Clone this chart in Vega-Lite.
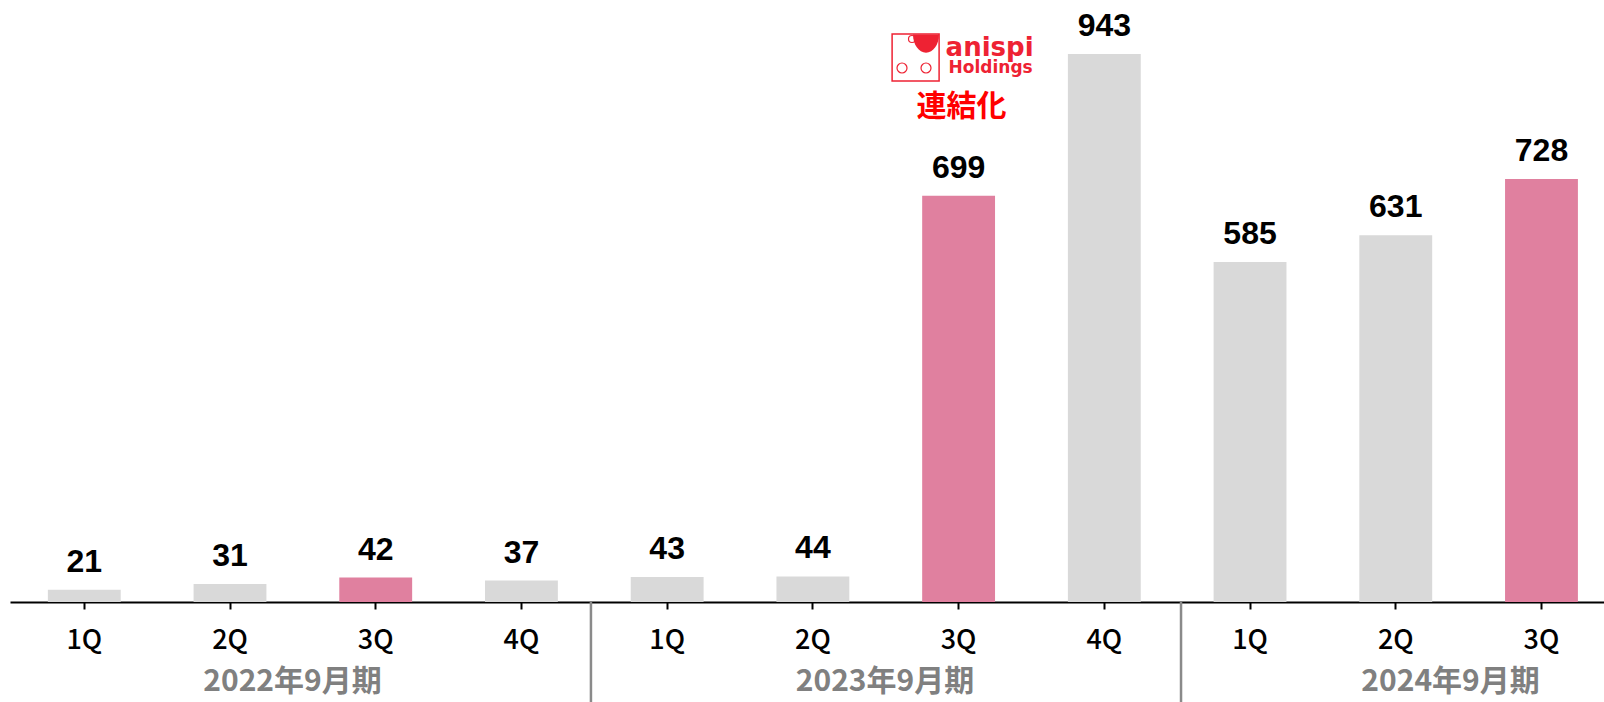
{
  "$schema": "https://vega.github.io/schema/vega-lite/v6.json",
  "width": 1594,
  "height": 602,
  "padding": {"left": 10, "right": 0, "top": 0, "bottom": 100},
  "autosize": {"type": "none"},
  "background": "white",
  "config": {"view": {"stroke": null}},
  "datasets": {
    "bars": [
      {"key": "2022-1Q", "value": 21, "hl": "N"},
      {"key": "2022-2Q", "value": 31, "hl": "N"},
      {"key": "2022-3Q", "value": 42, "hl": "Y"},
      {"key": "2022-4Q", "value": 37, "hl": "N"},
      {"key": "2023-1Q", "value": 43, "hl": "N"},
      {"key": "2023-2Q", "value": 44, "hl": "N"},
      {"key": "2023-3Q", "value": 699, "hl": "Y"},
      {"key": "2023-4Q", "value": 943, "hl": "N"},
      {"key": "2024-1Q", "value": 585, "hl": "N"},
      {"key": "2024-2Q", "value": 631, "hl": "N"},
      {"key": "2024-3Q", "value": 728, "hl": "Y"}
    ],
    "logo": [{"key": "2023-3Q"}]
  },
  "layer": [
    {
      "data": {"name": "bars"},
      "mark": {"type": "bar"},
      "encoding": {
        "x": {
          "field": "key", "type": "nominal", "sort": null,
          "scale": {
            "domain": ["2022-1Q","2022-2Q","2022-3Q","2022-4Q","2023-1Q","2023-2Q","2023-3Q","2023-4Q","2024-1Q","2024-2Q","2024-3Q"],
            "paddingInner": 0.5, "paddingOuter": 0.2194, "align": 0.592, "round": false
          },
          "axis": {
            "title": null,
            "labelExpr": "split(datum.value, '-')[1]",
            "labelAngle": 0,
            "labelFont": "Noto Sans CJK JP",
            "labelFontSize": 27,
            "labelFontWeight": 500,
            "labelColor": "#000000",
            "labelPadding": 18,
            "tickColor": "#000000",
            "tickSize": 7,
            "tickWidth": 2,
            "domainColor": "#000000",
            "domainWidth": 2,
            "grid": false
          }
        },
        "y": {"field": "value", "type": "quantitative", "scale": {"domain": [0, 1036], "nice": false}, "axis": null},
        "color": {"field": "hl", "type": "nominal", "scale": {"domain": ["N", "Y"], "range": ["#D9D9D9", "#E0809F"]}, "legend": null}
      }
    },
    {
      "data": {"name": "bars"},
      "mark": {"type": "text", "dy": -18, "baseline": "alphabetic", "align": "center", "font": "Liberation Sans", "fontSize": 32, "fontWeight": "bold", "color": "#000000"},
      "encoding": {
        "x": {"field": "key", "type": "nominal", "sort": null},
        "y": {"field": "value", "type": "quantitative"},
        "text": {"field": "value", "type": "quantitative"}
      }
    },
    {
      "data": {"values": [{"key": "2022-4Q"}]},
      "mark": {"type": "rule", "color": "#8A8A8A", "strokeWidth": 2.5, "xOffset": 69.5},
      "encoding": {
        "x": {"field": "key", "type": "nominal", "sort": null},
        "y": {"datum": 0},
        "y2": {"datum": -172.1}
      }
    },
    {
      "data": {"values": [{"key": "2023-4Q"}]},
      "mark": {"type": "rule", "color": "#8A8A8A", "strokeWidth": 2.5, "xOffset": 76.7},
      "encoding": {
        "x": {"field": "key", "type": "nominal", "sort": null},
        "y": {"datum": 0},
        "y2": {"datum": -172.1}
      }
    },
    {
      "data": {"values": [{"key": "2022-2Q", "label": "2022年9月期"}]},
      "mark": {"type": "text", "dx": 62.5, "baseline": "alphabetic", "align": "center", "font": "Noto Sans CJK JP", "fontSize": 30, "fontWeight": "bold", "color": "#808080"},
      "encoding": {
        "x": {"field": "key", "type": "nominal", "sort": null},
        "y": {"datum": -153.2},
        "text": {"field": "label"}
      }
    },
    {
      "data": {"values": [{"key": "2023-2Q", "label": "2023年9月期"}]},
      "mark": {"type": "text", "dx": 72.1, "baseline": "alphabetic", "align": "center", "font": "Noto Sans CJK JP", "fontSize": 30, "fontWeight": "bold", "color": "#808080"},
      "encoding": {
        "x": {"field": "key", "type": "nominal", "sort": null},
        "y": {"datum": -153.2},
        "text": {"field": "label"}
      }
    },
    {
      "data": {"values": [{"key": "2024-2Q", "label": "2024年9月期"}]},
      "mark": {"type": "text", "dx": 54.8, "baseline": "alphabetic", "align": "center", "font": "Noto Sans CJK JP", "fontSize": 30, "fontWeight": "bold", "color": "#808080"},
      "encoding": {
        "x": {"field": "key", "type": "nominal", "sort": null},
        "y": {"datum": -153.2},
        "text": {"field": "label"}
      }
    },
    {
      "data": {"name": "logo"},
      "mark": {"type": "point", "shape": "square", "size": 2209, "filled": false, "stroke": "#EE2233", "strokeWidth": 1.5, "opacity": 1, "xOffset": -43},
      "encoding": {
        "x": {"field": "key", "type": "nominal", "sort": null},
        "y": {"datum": 937.0}
      }
    },
    {
      "data": {"name": "logo"},
      "mark": {"type": "point", "shape": "M -1 0 A 1 1.4 0 0 0 1 0 Z", "size": 676, "filled": true, "fill": "#EE2233", "strokeWidth": 0, "opacity": 1, "xOffset": -32.6},
      "encoding": {
        "x": {"field": "key", "type": "nominal", "sort": null},
        "y": {"datum": 976.6}
      }
    },
    {
      "data": {"name": "logo"},
      "mark": {"type": "point", "shape": "circle", "size": 100, "filled": false, "stroke": "#EE2233", "strokeWidth": 1.2, "opacity": 1, "xOffset": -56.6},
      "encoding": {
        "x": {"field": "key", "type": "nominal", "sort": null},
        "y": {"datum": 919.0}
      }
    },
    {
      "data": {"name": "logo"},
      "mark": {"type": "point", "shape": "circle", "size": 100, "filled": false, "stroke": "#EE2233", "strokeWidth": 1.2, "opacity": 1, "xOffset": -32.6},
      "encoding": {
        "x": {"field": "key", "type": "nominal", "sort": null},
        "y": {"datum": 919.0}
      }
    },
    {
      "data": {"name": "logo"},
      "mark": {"type": "point", "shape": "circle", "size": 49, "filled": false, "stroke": "#EE2233", "strokeWidth": 1.2, "opacity": 1, "xOffset": -46.6},
      "encoding": {
        "x": {"field": "key", "type": "nominal", "sort": null},
        "y": {"datum": 968.9}
      }
    },
    {
      "data": {"values": [{"key": "2023-3Q", "label": "anispi"}]},
      "mark": {"type": "text", "dx": -13, "align": "left", "baseline": "alphabetic", "font": "DejaVu Sans", "fontSize": 26, "fontWeight": "bold", "color": "#EE2233"},
      "encoding": {
        "x": {"field": "key", "type": "nominal", "sort": null},
        "y": {"datum": 939.6},
        "text": {"field": "label"}
      }
    },
    {
      "data": {"values": [{"key": "2023-3Q", "label": "Holdings"}]},
      "mark": {"type": "text", "dx": -10, "align": "left", "baseline": "alphabetic", "font": "DejaVu Sans", "fontSize": 17, "fontWeight": "bold", "color": "#EE2233"},
      "encoding": {
        "x": {"field": "key", "type": "nominal", "sort": null},
        "y": {"datum": 910.4},
        "text": {"field": "label"}
      }
    },
    {
      "data": {"values": [{"key": "2023-3Q", "label": "連結化"}]},
      "mark": {"type": "text", "dx": 3, "align": "center", "baseline": "alphabetic", "font": "Noto Sans CJK JP", "fontSize": 30, "fontWeight": "bold", "color": "#FF0000"},
      "encoding": {
        "x": {"field": "key", "type": "nominal", "sort": null},
        "y": {"datum": 837.2},
        "text": {"field": "label"}
      }
    }
  ]
}
